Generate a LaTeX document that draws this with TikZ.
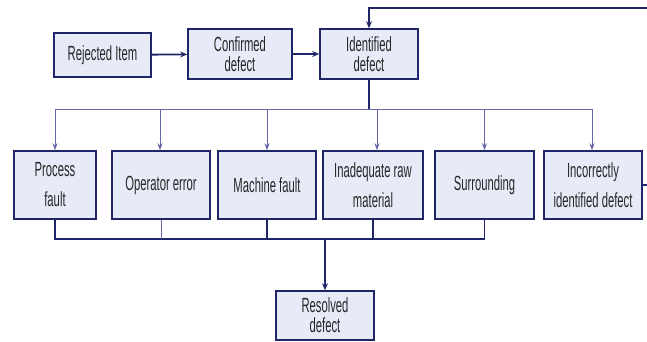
\documentclass[tikz,border=0pt]{standalone}
\usepackage{fontspec}
\newfontfamily\narrowfont{Liberation Sans}[FakeStretch=0.55]
\usetikzlibrary{arrows.meta,calc}
\definecolor{navy}{HTML}{1F2566}
\definecolor{boxfill}{HTML}{E6EBF7}
\definecolor{thinline}{HTML}{6468A8}
\tikzset{
  box/.style={draw=navy, line width=1.6pt, fill=boxfill, rectangle, inner sep=0pt,
    align=center, font=\narrowfont\fontsize{20.5}{20}\selectfont, text=black!85},
  midbox/.style={box, minimum height=68pt, font=\narrowfont\fontsize{20.5}{30}\selectfont},
  mainarrow/.style={draw=navy, line width=1.8pt, -{Stealth[length=7pt,width=6pt]}},
  thinarrow/.style={draw=thinline, line width=0.9pt, -{Stealth[length=7pt,width=5pt]}},
  busline/.style={draw=navy, line width=1.3pt},
  thinbus/.style={draw=thinline, line width=0.9pt},
}
\begin{document}
\begin{tikzpicture}[x=1pt,y=-1pt]
\useasboundingbox (0,0) rectangle (647,341);
% top row
\node[box, minimum width=97pt, minimum height=44pt] (rej) at (102.5,55) {Rejected Item};
\node[box, minimum width=104pt, minimum height=50pt] (conf) at (240,54) {Confirmed\\defect};
\node[box, minimum width=98pt, minimum height=50pt] (ident) at (369,54) {Identified\\defect};
% middle row
\node[midbox, minimum width=82pt] (proc) at (55,185) {Process\\fault};
\node[midbox, minimum width=98pt] (oper) at (161,185) {Operator error};
\node[midbox, minimum width=98pt] (mach) at (267,185) {Machine fault};
\node[midbox, minimum width=100pt] (inad) at (373,185) {Inadequate raw\\material};
\node[midbox, minimum width=99pt] (surr) at (484.5,185) {Surrounding};
\node[midbox, minimum width=98pt] (inc) at (593,185) {Incorrectly\\identified defect};
% bottom
\node[box, minimum width=98pt, minimum height=49pt] (res) at (325,315.5) {Resolved\\defect};
% coordinates
\coordinate (split) at (369,109);
\coordinate (join) at (325,239);
\coordinate (fbr) at (650,8);
% top arrows
\draw[mainarrow] (rej) -- (conf);
\draw[mainarrow] (conf) -- (ident);
% distribution
\draw[busline] (ident.south) -- (split);
\draw[thinbus] (proc.north |- split) -- (inc.north |- split);
\draw[thinarrow] (proc.north |- split) -- (proc.north);
\draw[thinarrow] ($(oper.north |- split)+(-1,0)$) -- ($(oper.north)+(-1,0)$);
\draw[thinarrow] (mach.north |- split) -- (mach.north);
\draw[thinarrow] ($(inad.north |- split)+(4,0)$) -- ($(inad.north)+(4,0)$);
\draw[thinarrow] (surr.north |- split) -- (surr.north);
\draw[thinarrow] ($(inc.north |- split)+(-1,0)$) -- ($(inc.north)+(-1,0)$);
% collection
\draw[busline] (proc.south) -- (proc.south |- join) -- (surr.south |- join) -- (surr.south);
\draw[thinbus] (oper.south) -- (oper.south |- join);
\draw[busline] (mach.south) -- (mach.south |- join);
\draw[busline] (inad.south) -- (inad.south |- join);
\draw[mainarrow, line width=1.3pt] (join) -- (res.north);
% feedback
\draw[mainarrow, line width=1.6pt] (inc.east) -- (inc.east -| fbr) -- (fbr) -- (ident.north |- fbr) -- (ident.north);
\end{tikzpicture}
\end{document}
